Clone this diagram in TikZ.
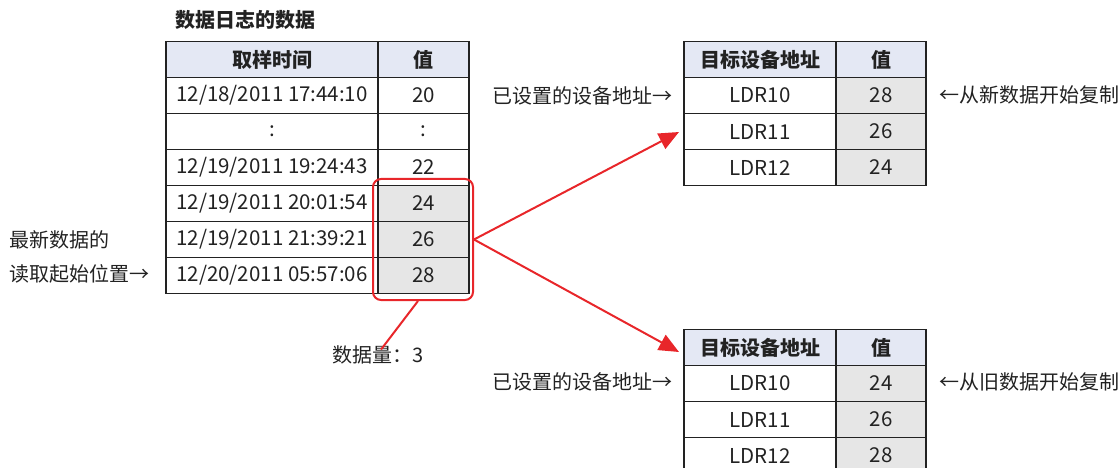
\documentclass[tikz,border=0pt]{standalone}
\usepackage{fontspec}
\setmainfont{Noto Sans CJK SC}
\usetikzlibrary{arrows.meta}
\definecolor{hdr}{HTML}{E4E8F4}
\definecolor{gry}{HTML}{E6E6E6}
\definecolor{rd}{HTML}{E8262A}
\definecolor{ink}{HTML}{222222}
\begin{document}
\begin{tikzpicture}[x=1pt,y=-1pt,
  cell/.style={draw=ink, line width=1.1pt, inner sep=0pt, minimum height=36pt, text=ink, font=\fontsize{20.5}{24}\selectfont},
  hcell/.style={cell, fill=hdr, font=\fontsize{20}{24}\selectfont\bfseries},
  gcell/.style={cell, fill=gry},
  lw/.style={minimum width=212pt},
  lv/.style={minimum width=91pt},
  rw/.style={minimum width=152pt},
  rv/.style={minimum width=90pt},
  lbl/.style={inner sep=0pt, text=ink, font=\fontsize{20}{24}\selectfont},
  redline/.style={draw=rd, line width=2pt},
  redarrow/.style={redline, -{Triangle[length=20pt,width=17pt]}}]
\useasboundingbox (0,0) rectangle (1120,468);

% left table
\node[hcell, lw] (lh1) at (272,59.5) {取样时间};
\node[hcell, lv] (lh2) at (423.5,59.5) {值};
\node[cell, lw] (la1) at (272,95.5) {12/18/2011 17:44:10};
\node[cell, lv] (lb1) at (423.5,95.5) {20};
\node[cell, lw] (la2) at (272,131.5) {:};
\node[cell, lv] (lb2) at (423.5,131.5) {:};
\node[cell, lw] (la3) at (272,167.5) {12/19/2011 19:24:43};
\node[cell, lv] (lb3) at (423.5,167.5) {22};
\node[cell, lw] (la4) at (272,203.5) {12/19/2011 20:01:54};
\node[gcell, lv] (lb4) at (423.5,203.5) {24};
\node[cell, lw] (la5) at (272,239.5) {12/19/2011 21:39:21};
\node[gcell, lv] (lb5) at (423.5,239.5) {26};
\node[cell, lw] (la6) at (272,275.5) {12/20/2011 05:57:06};
\node[gcell, lv] (lb6) at (423.5,275.5) {28};

% top right table
\node[hcell, rw] (th1) at (760,59.5) {目标设备地址};
\node[hcell, rv] (th2) at (881,59.5) {值};
\node[cell, rw] (ta1) at (760,95.5) {LDR10};
\node[gcell, rv] (tb1) at (881,95.5) {28};
\node[cell, rw] (ta2) at (760,131.5) {LDR11};
\node[gcell, rv] (tb2) at (881,131.5) {26};
\node[cell, rw] (ta3) at (760,167.5) {LDR12};
\node[gcell, rv] (tb3) at (881,167.5) {24};

% bottom right table
\node[hcell, rw] (bh1) at (760,347.5) {目标设备地址};
\node[hcell, rv] (bh2) at (881,347.5) {值};
\node[cell, rw] (ba1) at (760,383.5) {LDR10};
\node[gcell, rv] (bb1) at (881,383.5) {24};
\node[cell, rw] (ba2) at (760,419.5) {LDR11};
\node[gcell, rv] (bb2) at (881,419.5) {26};
\node[cell, rw] (ba3) at (760,455.5) {LDR12};
\node[gcell, rv] (bb3) at (881,455.5) {28};

% labels
\node[lbl, anchor=west, font=\fontsize{20}{24}\selectfont\bfseries] (title) at (175,20) {数据日志的数据};
\node[lbl, anchor=west] (new1) at (9,240) {最新数据的};
\node[lbl, anchor=west] (new2) at (9,274) {读取起始位置→};
\node[lbl, anchor=east] (set1) at (673,96) {已设置的设备地址→};
\node[lbl, anchor=east] (set2) at (673,382) {已设置的设备地址→};
\node[lbl, anchor=west] (cp1) at (939,95) {←从新数据开始复制};
\node[lbl, anchor=west] (cp2) at (939,382) {←从旧数据开始复制};
\node[lbl] (cnt) at (378,355) {数据量：3};

% red selection
\node[redline, rounded corners=8pt, minimum width=100pt, minimum height=121pt, inner sep=0pt] (sel) at (423,239.5) {};
\coordinate (t1) at (679,132);
\coordinate (t2) at (679,352);
\draw[redarrow] (sel.east) -- (t1);
\draw[redarrow] (sel.east) -- (t2);
\draw[redline] ([xshift=-5pt]sel.south) -- ([xshift=3pt,yshift=-4pt]cnt.north);
\end{tikzpicture}
\end{document}
